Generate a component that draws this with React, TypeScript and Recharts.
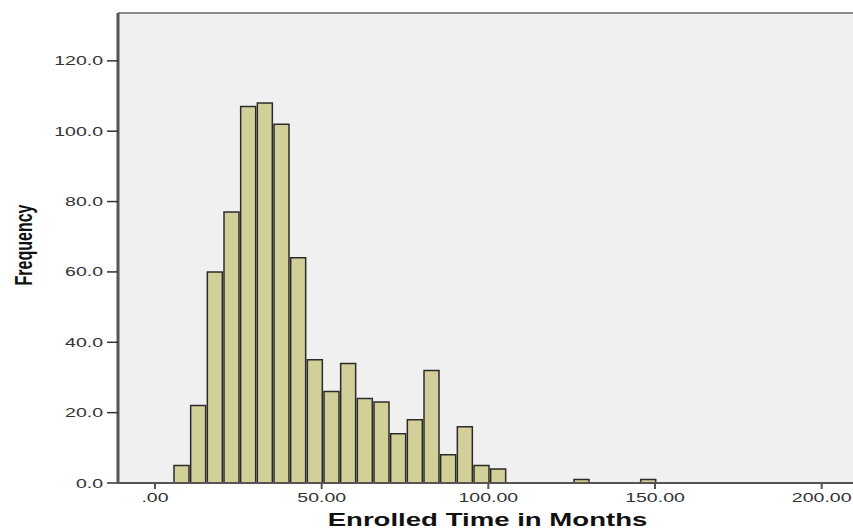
import React from "react";
import {
  BarChart,
  Bar,
  XAxis,
  YAxis,
  CartesianGrid,
  ReferenceLine,
} from "recharts";

// histogram bins, 5 months wide, given by centre
const binCenters = [
  7.9, 12.9, 17.9, 22.9, 27.9, 32.9, 37.9, 42.9, 47.9, 52.9, 57.9, 62.9, 67.9,
  72.9, 77.9, 82.9, 87.9, 92.9, 97.9, 102.9, 107.9, 112.9, 117.9, 122.9, 127.9,
  132.9, 137.9, 142.9, 147.9,
];
const frequencies = [
  5, 22, 60, 77, 107, 108, 102, 64, 35, 26, 34, 24, 23, 14, 18, 32, 8, 16, 5, 4,
  0, 0, 0, 0, 1, 0, 0, 0, 1,
];
const xTicks = [0, 50, 100, 150, 200];
const yTicks = [0, 20, 40, 60, 80, 100, 120];

const data = binCenters.map((x, i) => ({ x, count: frequencies[i] }));

const FONT = "'Liberation Sans', Arial, sans-serif";
const STRETCH = 1.5;

const fmtX = (v: number) => (v === 0 ? ".00" : v.toFixed(2));

const XTick = (props: any) => {
  const { x, y, payload } = props;
  return (
    <text
      transform={`translate(${x},${y + 11}) scale(${STRETCH},1)`}
      textAnchor="middle"
      fontFamily={FONT}
      fontSize={13}
      fill="#333"
    >
      {fmtX(payload.value)}
    </text>
  );
};

const YTick = (props: any) => {
  const { x, y, payload } = props;
  return (
    <text
      transform={`translate(${x - 2},${y + 4.5}) scale(${STRETCH},1)`}
      textAnchor="end"
      fontFamily={FONT}
      fontSize={13}
      fill="#333"
    >
      {payload.value.toFixed(1)}
    </text>
  );
};

const XTitle = (props: any) => {
  const { viewBox } = props;
  const cx = viewBox.x + viewBox.width / 2 + 2;
  return (
    <text
      transform={`translate(${cx},${viewBox.y + 43}) scale(${STRETCH},1)`}
      textAnchor="middle"
      fontFamily={FONT}
      fontWeight="bold"
      fontSize={18.4}
      fill="#111"
    >
      Enrolled Time in Months
    </text>
  );
};

const YTitle = (props: any) => {
  const { viewBox } = props;
  const cy = viewBox.y + viewBox.height / 2 - 3;
  return (
    <text
      transform={`translate(32,${cy}) scale(${STRETCH},1) rotate(-90)`}
      textAnchor="middle"
      fontFamily={FONT}
      fontWeight="bold"
      fontSize={16}
      fill="#111"
    >
      Frequency
    </text>
  );
};

export default function App() {
  return (
    <div style={{ position: "fixed", left: 0, top: 0, background: "#fff" }}>
      <BarChart
        width={853}
        height={529}
        data={data}
        margin={{ top: 13, right: 0, bottom: 0, left: 0 }}
        barCategoryGap={0}
      >
        <CartesianGrid horizontal={false} vertical={false} fill="#f0f0f0" />
        <XAxis
          dataKey="x"
          type="number"
          domain={[-11.1, 209.4]}
          ticks={xTicks}
          allowDataOverflow
          height={46}
          axisLine={{ stroke: "#555", strokeWidth: 2 }}
          tickLine={{ stroke: "#555", strokeWidth: 2 }}
          tickSize={6}
          tick={<XTick />}
          label={{ content: <XTitle /> }}
        />
        <YAxis
          type="number"
          domain={[0, 133.6]}
          ticks={yTicks}
          allowDataOverflow
          width={118}
          axisLine={{ stroke: "#555", strokeWidth: 3 }}
          tickLine={{ stroke: "#333", strokeWidth: 1.5 }}
          tickSize={11}
          tick={<YTick />}
          label={{ content: <YTitle /> }}
        />
        <ReferenceLine y={133.6} stroke="#8a8a8a" strokeWidth={2} />
        <Bar
          dataKey="count"
          fill="#d3cf98"
          stroke="#2b2b2b"
          strokeWidth={1.5}
          barSize={16.67}
          isAnimationActive={false}
        />
      </BarChart>
    </div>
  );
}
